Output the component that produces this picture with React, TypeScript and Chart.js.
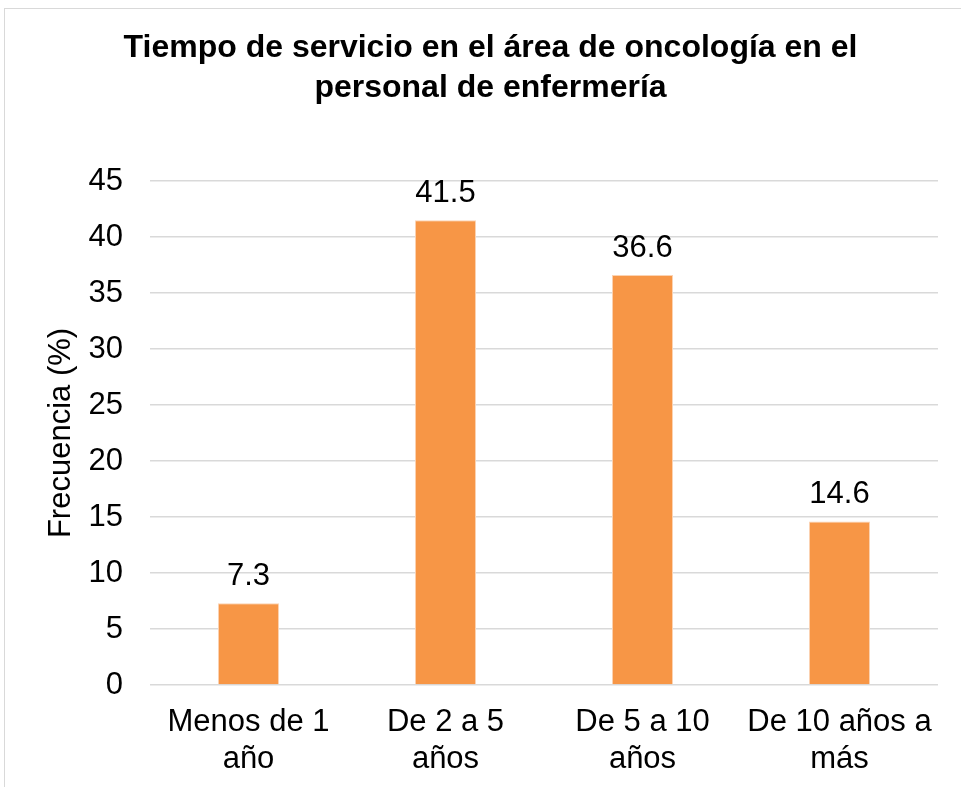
import React, { useEffect, useRef } from "react";
import { Chart, registerables } from "chart.js";

Chart.register(...registerables);

const titleLines = ["Tiempo de servicio en el área de oncología en el", "personal de enfermería"];
const categories = [["Menos de 1", "año"], ["De 2 a 5", "años"], ["De 5 a 10", "años"], ["De 10 años a", "más"]];
const frequencies = [7.3, 41.5, 36.6, 14.6];
const yAxisTitle = "Frecuencia (%)";
const yMin = 0;
const yMax = 45;
const yStep = 5;

const FONT = "'Liberation Sans', Arial, sans-serif";
const BAR_COLOR = "#F79646";
const TEXT_SIZE = 31;

const valueLabels = {
  id: "valueLabels",
  afterDatasetsDraw(chart: any) {
    const ctx = chart.ctx;
    const meta = chart.getDatasetMeta(0);
    ctx.save();
    ctx.font = `${TEXT_SIZE}px ${FONT}`;
    ctx.fillStyle = "#000";
    ctx.textAlign = "center";
    ctx.textBaseline = "alphabetic";
    meta.data.forEach((bar: any, i: number) => {
      const v = chart.data.datasets[0].data[i];
      ctx.fillText(String(v), bar.x, bar.y - 18);
    });
    ctx.restore();
  },
};

export default function App() {
  const ref = useRef<HTMLCanvasElement>(null);
  useEffect(() => {
    if (!ref.current) return;
    const chart = new Chart(ref.current, {
      type: "bar",
      data: {
        labels: categories,
        datasets: [
          {
            data: frequencies,
            backgroundColor: BAR_COLOR,
            borderColor: "#fbd3b3",
            borderWidth: 1,
            barPercentage: 0.31,
            categoryPercentage: 1,
          },
        ],
      },
      options: {
        responsive: false,
        animation: false,
        layout: { padding: { left: 20, right: 0, top: 0, bottom: 0 } },
        plugins: {
          legend: { display: false },
          tooltip: { enabled: false },
          title: {
            display: true,
            text: titleLines,
            color: "#000",
            font: { family: FONT, size: 32, weight: "bold", lineHeight: 1.25 },
            padding: { top: 28, bottom: 73 },
          },
        },
        scales: {
          x: {
            grid: { display: false, drawTicks: false },
            border: { display: false },
            ticks: {
              color: "#000",
              font: { family: FONT, size: TEXT_SIZE, lineHeight: 1.2 },
              padding: 19,
              maxRotation: 0,
              autoSkip: false,
            },
            afterFit: (s: any) => {
              s.height = 102;
            },
          },
          y: {
            min: yMin,
            max: yMax,
            ticks: {
              stepSize: yStep,
              color: "#000",
              font: { family: FONT, size: TEXT_SIZE },
              padding: 27,
            },
            grid: { color: "#d9d9d9", lineWidth: 1.5, drawTicks: false },
            border: { display: false },
            title: {
              display: true,
              text: yAxisTitle,
              color: "#000",
              font: { family: FONT, size: TEXT_SIZE, lineHeight: 1.2 },
              padding: { top: 23, bottom: 0 },
            },
            afterFit: (s: any) => {
              s.width = 130;
            },
          },
          yRightSpacer: {
            position: "right",
            display: true,
            grid: { display: false, drawTicks: false },
            border: { display: false },
            ticks: { display: false },
            afterFit: (s: any) => {
              s.width = 23;
            },
          },
        },
      },
      plugins: [valueLabels],
    });
    return () => chart.destroy();
  }, []);

  return (
    <div style={{ position: "fixed", left: 0, top: 0, width: 961, height: 787, background: "#fff" }}>
      <canvas ref={ref} width={961} height={787} style={{ position: "absolute", left: 0, top: 0 }} />
      <div
        style={{
          position: "absolute",
          left: 4,
          top: 8,
          width: 957,
          height: 779,
          borderTop: "1px solid #d9d9d9",
          borderLeft: "1px solid #d9d9d9",
          boxSizing: "border-box",
          pointerEvents: "none",
        }}
      />
    </div>
  );
}
